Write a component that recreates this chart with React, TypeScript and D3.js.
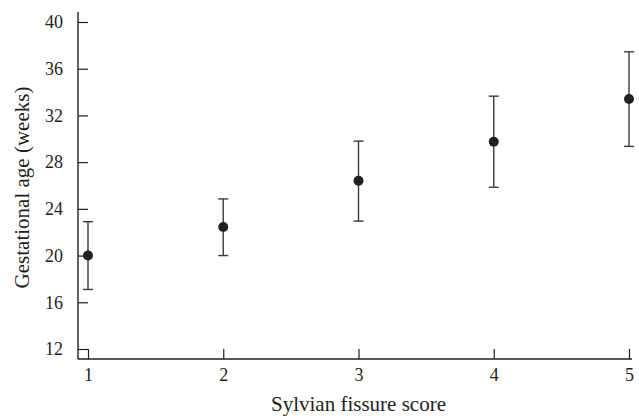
import React, { useEffect, useRef } from "react";
import * as d3 from "d3";

// Sylvian fissure score vs gestational age (mean with range bars)
const scores = [1, 2, 3, 4, 5];
const meanAge = [20.0, 22.45, 26.4, 29.75, 33.4];
const lowAge = [17.1, 20.0, 22.95, 25.85, 29.35];
const highAge = [22.9, 24.85, 29.8, 33.65, 37.45];
const yTicks = [12, 16, 20, 24, 28, 32, 36, 40];

const W = 639;
const H = 419;
const FONT = "'Liberation Serif', 'DejaVu Serif', serif";
const INK = "#231f20";

export default function App() {
  const ref = useRef<SVGSVGElement>(null);

  useEffect(() => {
    const svg = d3.select(ref.current);
    svg.selectAll("*").remove();

    const x = d3.scaleLinear().domain([1, 5]).range([88, 629]);
    const y = d3.scaleLinear().domain([12, 40]).range([349, 22]);
    const x0 = 78;
    const y0 = 359;

    const rows = scores.map((s, i) => ({
      s,
      mean: meanAge[i],
      lo: lowAge[i],
      hi: highAge[i],
    }));

    // axes (ticks point into the plot)
    const yAxis = svg.append("g")
      .attr("transform", `translate(${x0},0)`)
      .call(d3.axisRight(y).tickValues(yTicks).tickSize(10).tickSizeOuter(0).tickFormat(d3.format("d")));
    yAxis.select(".domain").remove();
    yAxis.selectAll("text")
      .attr("x", -15)
      .attr("text-anchor", "end");

    const xAxis = svg.append("g")
      .attr("transform", `translate(0,${y0})`)
      .call(d3.axisTop(x).tickValues(scores).tickSize(10).tickSizeOuter(0).tickFormat(d3.format("d")));
    xAxis.select(".domain").remove();
    xAxis.selectAll("text")
      .attr("y", 9)
      .attr("dy", "0.71em");

    [yAxis, xAxis].forEach((g) => {
      g.selectAll("line").attr("stroke", INK).attr("stroke-width", 1.2);
      g.selectAll("text")
        .attr("fill", INK)
        .style("font-family", FONT)
        .style("font-size", "18px");
    });

    // axis lines
    svg.append("line")
      .attr("x1", x0).attr("x2", x0)
      .attr("y1", y0).attr("y2", 12)
      .attr("stroke", INK).attr("stroke-width", 1.4);
    svg.append("line")
      .attr("x1", x0).attr("x2", 632)
      .attr("y1", y0).attr("y2", y0)
      .attr("stroke", INK).attr("stroke-width", 1.4);

    // error bars
    const bars = svg.append("g").selectAll("g").data(rows).enter().append("g");
    bars.append("line")
      .attr("x1", (d) => x(d.s)).attr("x2", (d) => x(d.s))
      .attr("y1", (d) => y(d.lo)).attr("y2", (d) => y(d.hi))
      .attr("stroke", "#3a3a3a").attr("stroke-width", 1.4);
    bars.selectAll("line.cap")
      .data((d) => [d.lo, d.hi].map((v) => ({ s: d.s, v })))
      .enter().append("line")
      .attr("class", "cap")
      .attr("x1", (d) => x(d.s) - 5).attr("x2", (d) => x(d.s) + 5)
      .attr("y1", (d) => y(d.v)).attr("y2", (d) => y(d.v))
      .attr("stroke", "#3a3a3a").attr("stroke-width", 1.4);
    bars.append("circle")
      .attr("cx", (d) => x(d.s))
      .attr("cy", (d) => y(d.mean))
      .attr("r", 5)
      .attr("fill", INK);

    // titles
    svg.append("text")
      .attr("x", (x(1) + x(5)) / 2)
      .attr("y", 411)
      .attr("text-anchor", "middle")
      .attr("fill", INK)
      .style("font-family", FONT)
      .style("font-size", "21px")
      .text("Sylvian fissure score");

    svg.append("text")
      .attr("transform", `translate(29,${(y(12) + y(40)) / 2 + 2}) rotate(-90)`)
      .attr("text-anchor", "middle")
      .attr("fill", INK)
      .style("font-family", FONT)
      .style("font-size", "21px")
      .text("Gestational age (weeks)");
  }, []);

  return (
    <svg
      ref={ref}
      width={W}
      height={H}
      style={{ position: "absolute", left: 0, top: 0, background: "#fff" }}
    />
  );
}
